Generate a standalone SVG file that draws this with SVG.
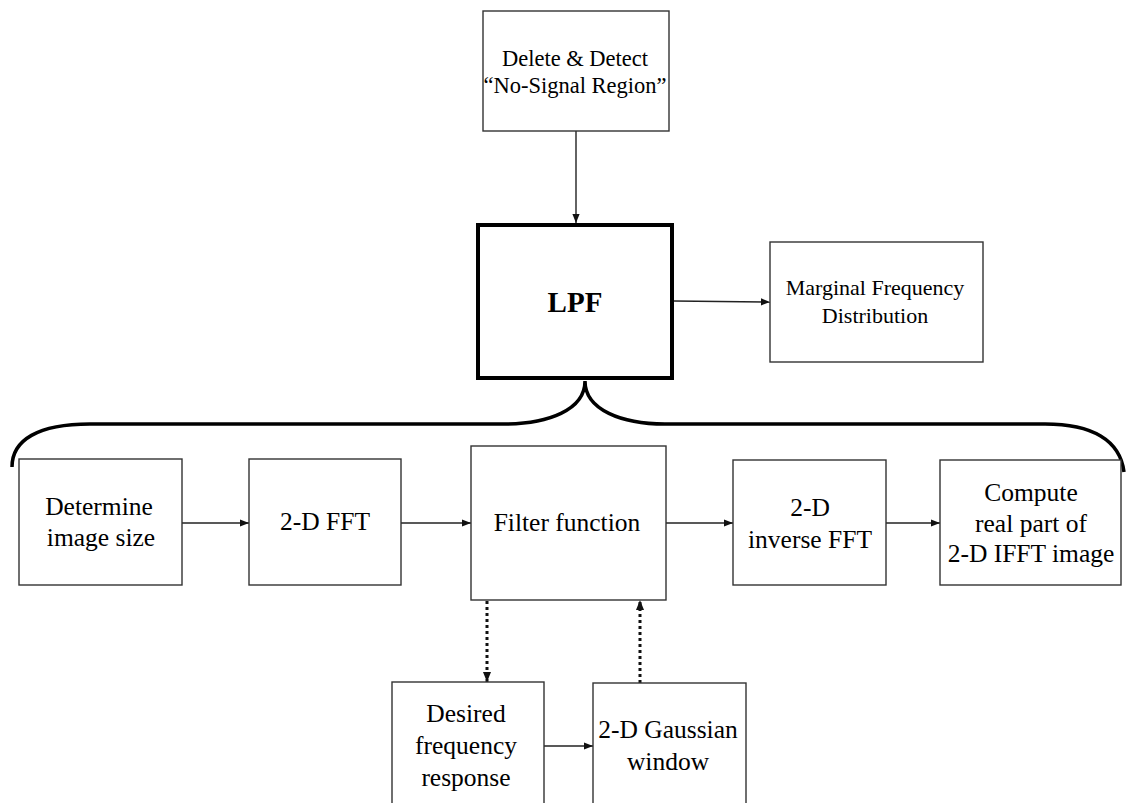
<svg xmlns="http://www.w3.org/2000/svg" width="1126" height="803" viewBox="0 0 1126 803">
<style>
.box{fill:#fff;stroke:#333;stroke-width:1.4}
.lpf{fill:#fff;stroke:#000;stroke-width:4}
.t{font-family:'Liberation Serif','Tinos','DejaVu Serif',serif;fill:#000;text-anchor:middle}
.s21{font-size:22.5px}
.s22{font-size:22px}
.s25{font-size:25.5px}
.conn{stroke:#222;stroke-width:1.4;fill:none}
.dot{stroke:#111;stroke-width:3;stroke-dasharray:3 3;fill:none}
.brace{stroke:#000;stroke-width:3.5;fill:none}
</style>
<defs>
<marker id="ah" viewBox="0 0 10 10" refX="10" refY="5" markerWidth="9" markerHeight="9" markerUnits="userSpaceOnUse" orient="auto">
<path d="M0,1 L10,5 L0,9 z" fill="#111"/>
</marker>
<marker id="ahd" viewBox="0 0 10 10" refX="10" refY="5" markerWidth="10" markerHeight="10" markerUnits="userSpaceOnUse" orient="auto">
<path d="M0,1 L10,5 L0,9 z" fill="#111"/>
</marker>
</defs>
<rect width="1126" height="803" fill="#fff"/>
<g id="brace">
<path class="brace" d="M12 467 C12 440 38 424 90 424 L504 424 C548 424 585 410 585 381 C585 410 622 424 665 424 L1045 424 C1092 424 1120 440 1124 472"/>
</g>
<g id="connectors">
<line class="conn" x1="576" y1="131" x2="576" y2="223" marker-end="url(#ah)"/>
<line class="conn" x1="674" y1="301" x2="770" y2="302" marker-end="url(#ah)"/>
<line class="conn" x1="182" y1="523" x2="249" y2="523" marker-end="url(#ah)"/>
<line class="conn" x1="401" y1="523" x2="471" y2="523" marker-end="url(#ah)"/>
<line class="conn" x1="666" y1="523" x2="733" y2="523" marker-end="url(#ah)"/>
<line class="conn" x1="886" y1="523" x2="940" y2="523" marker-end="url(#ah)"/>
<line class="conn" x1="544" y1="746" x2="593" y2="746" marker-end="url(#ah)"/>
<line class="dot" x1="487" y1="601" x2="487" y2="682" marker-end="url(#ahd)"/>
<line class="dot" x1="640" y1="683" x2="640" y2="600" marker-end="url(#ahd)"/>
</g>
<g id="delete-detect">
<rect class="box" x="483" y="11" width="186" height="120"/>
<text class="t s21" x="575" y="66">Delete &amp; Detect</text>
<text class="t s21" x="575" y="93">“No-Signal Region”</text>
</g>
<g id="lpf">
<rect class="lpf" x="478" y="225" width="194" height="153"/>
<text class="t" x="575" y="312" font-size="29" font-weight="bold">LPF</text>
</g>
<g id="marginal">
<rect class="box" x="770" y="242" width="213" height="120"/>
<text class="t s22" x="875" y="295">Marginal Frequency</text>
<text class="t s22" x="875" y="323">Distribution</text>
</g>
<g id="determine">
<rect class="box" x="19" y="459" width="163" height="126"/>
<text class="t s25" x="99" y="515">Determine</text>
<text class="t s25" x="101" y="546">image size</text>
</g>
<g id="fft">
<rect class="box" x="249" y="459" width="152" height="126"/>
<text class="t s25" x="325" y="530">2-D FFT</text>
</g>
<g id="filter">
<rect class="box" x="471" y="446" width="195" height="154"/>
<text class="t s25" x="567" y="531">Filter function</text>
</g>
<g id="ifft">
<rect class="box" x="733" y="460" width="153" height="125"/>
<text class="t s25" x="810" y="516">2-D</text>
<text class="t s25" x="810" y="548">inverse FFT</text>
</g>
<g id="compute">
<rect class="box" x="940" y="460" width="181" height="125"/>
<text class="t s25" x="1031" y="501">Compute</text>
<text class="t s25" x="1031" y="532">real part of</text>
<text class="t s25" x="1031" y="562">2-D IFFT image</text>
</g>
<g id="desired">
<rect class="box" x="392" y="682" width="152" height="140"/>
<text class="t s25" x="466" y="722">Desired</text>
<text class="t s25" x="466" y="754">frequency</text>
<text class="t s25" x="466" y="786">response</text>
</g>
<g id="gaussian">
<rect class="box" x="593" y="683" width="153" height="140"/>
<text class="t s25" x="668" y="738">2-D Gaussian</text>
<text class="t s25" x="668" y="770">window</text>
</g>
</svg>
